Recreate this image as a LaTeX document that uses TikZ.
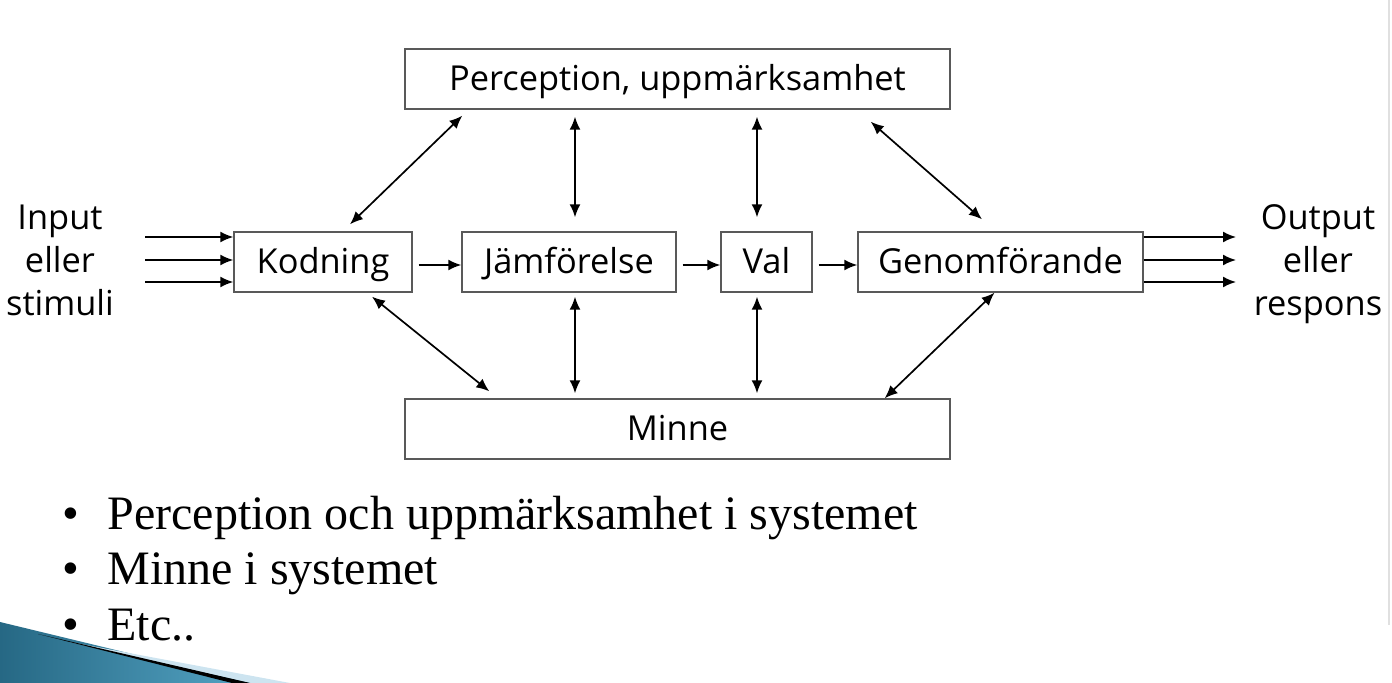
\documentclass[tikz,border=0pt]{standalone}
\usepackage{fontspec}
\setmainfont{Liberation Serif}
\newfontfamily\diagfont{Open Sans}
\usetikzlibrary{calc, arrows.meta, positioning}
\definecolor{wedgedark}{RGB}{38,104,132}
\definecolor{wedgelight}{RGB}{84,164,196}
\definecolor{wedgehaze}{RGB}{205,228,240}

\begin{document}
\begin{tikzpicture}[x = 0.5pt, y = 0.5pt,
		box/.style = {draw = black!65, line width = 0.7pt, minimum height = 30pt, inner sep = 0pt, text height = 15pt, text depth = 3.5pt, font = \diagfont\fontsize{17.2}{20}\selectfont},
		arr/.style = {line width = 0.85pt, -{Latex[length = 6.5pt, width = 5.5pt]}},
		dbl/.style = {line width = 0.85pt, {Latex[length = 6.5pt, width = 5.5pt]}-{Latex[length = 6.5pt, width = 5.5pt]}},
		side/.style = {align = center, font = \diagfont\fontsize{17.2}{21.5}\selectfont},
		bullet/.style = {anchor = base west, inner sep = 0pt, font = \fontsize{24}{28}\selectfont}]
					\useasboundingbox (0,0) rectangle (1392,-683);

					\begin{scope}
						\shade[left color = wedgedark, right color = wedgelight] (0,-622) -- (252,-683) -- (0,-683) -- cycle;
						\fill[wedgehaze] (70,-642) -- (290,-683) -- (250,-683) -- cycle;
						\fill[black] (38,-634) -- (250,-683) -- (232,-683) -- cycle;
						\draw[black!12, line width = 1pt] (1389,0) -- (1389,-625);
					\end{scope}

					\node[box, minimum width = 272.5pt] (perc) at (677.5,-79) {Perception, uppmärksamhet};
					\node[box, minimum width = 89pt] (kod) at (323,-262) {Kodning};
					\node[box, minimum width = 107pt] (jam) at (569,-262) {Jämförelse};
					\node[box, minimum width = 45.5pt] (val) at (766.5,-262) {Val};
					\node[box, minimum width = 142.5pt] (gen) at (1000.5,-262) {Genomförande};
					\node[box, minimum width = 272.5pt] (minne) at (677.5,-429) {Minne};

					\node[side] (inp) at (60,-260) {Input\\eller\\stimuli};
					\node[side] (outp) at (1318,-264) {Output\\eller\\respons};

					\begin{scope}
						\foreach \y [count = \i] in {-237,-260,-282}
						{
							\coordinate (in\i) at (145,\y);
							\coordinate (out\i) at (1236,\y);
							\draw[arr] (in\i) -- (in\i -| kod.west);
							\draw[arr] (out\i -| gen.east) -- (out\i);
						}
					\end{scope}

					\begin{scope}[shorten <= 3pt]
						\draw[arr] ([yshift = -1.5pt]kod.east) -- ([yshift = -1.5pt]jam.west);
						\draw[arr] ([yshift = -1.5pt]jam.east) -- ([yshift = -1.5pt]val.west);
						\draw[arr] ([yshift = -1.5pt]val.east) -- ([yshift = -1.5pt]gen.west);
					\end{scope}

					\begin{scope}
						\draw[dbl] ($(kod.north)+(27,7)$) -- ($(perc.south west)+(58,-6)$);
						\draw[dbl] ($(jam.north)+(6,14)$) -- ($(jam.north |- perc.south)+(6,-7)$);
						\draw[dbl] ($(val.north)+(-9.5,14)$) -- ($(val.north |- perc.south)+(-9.5,-7)$);
						\draw[dbl] ($(perc.south east)+(-80,-12)$) -- ($(gen.north)+(-18.5,12)$);

						\draw[dbl] ($(kod.south)+(49,-4)$) -- ($(minne.north west)+(85,7)$);
						\draw[dbl] ($(jam.south)+(6,-4)$) -- ($(jam.south |- minne.north)+(6,5)$);
						\draw[dbl] ($(val.south)+(-9.5,-4)$) -- ($(val.south |- minne.north)+(-9.5,5)$);
						\draw[dbl] (gen.south) ++(-6,0) -- ($(minne.north east)+(-66,0)$);
					\end{scope}

					\node[bullet] (b1) at (62,-530) {•};
					\node[bullet] (t1) at (107,-530) {Perception och uppmärksamhet i systemet};
					\node[bullet] (b2) at (62,-585) {•};
					\node[bullet] (t2) at (107,-585) {Minne i systemet};
					\node[bullet] (b3) at (62,-640) {•};
					\node[bullet] (t3) at (107,-640) {Etc..};
				\end{tikzpicture}
\end{document}
